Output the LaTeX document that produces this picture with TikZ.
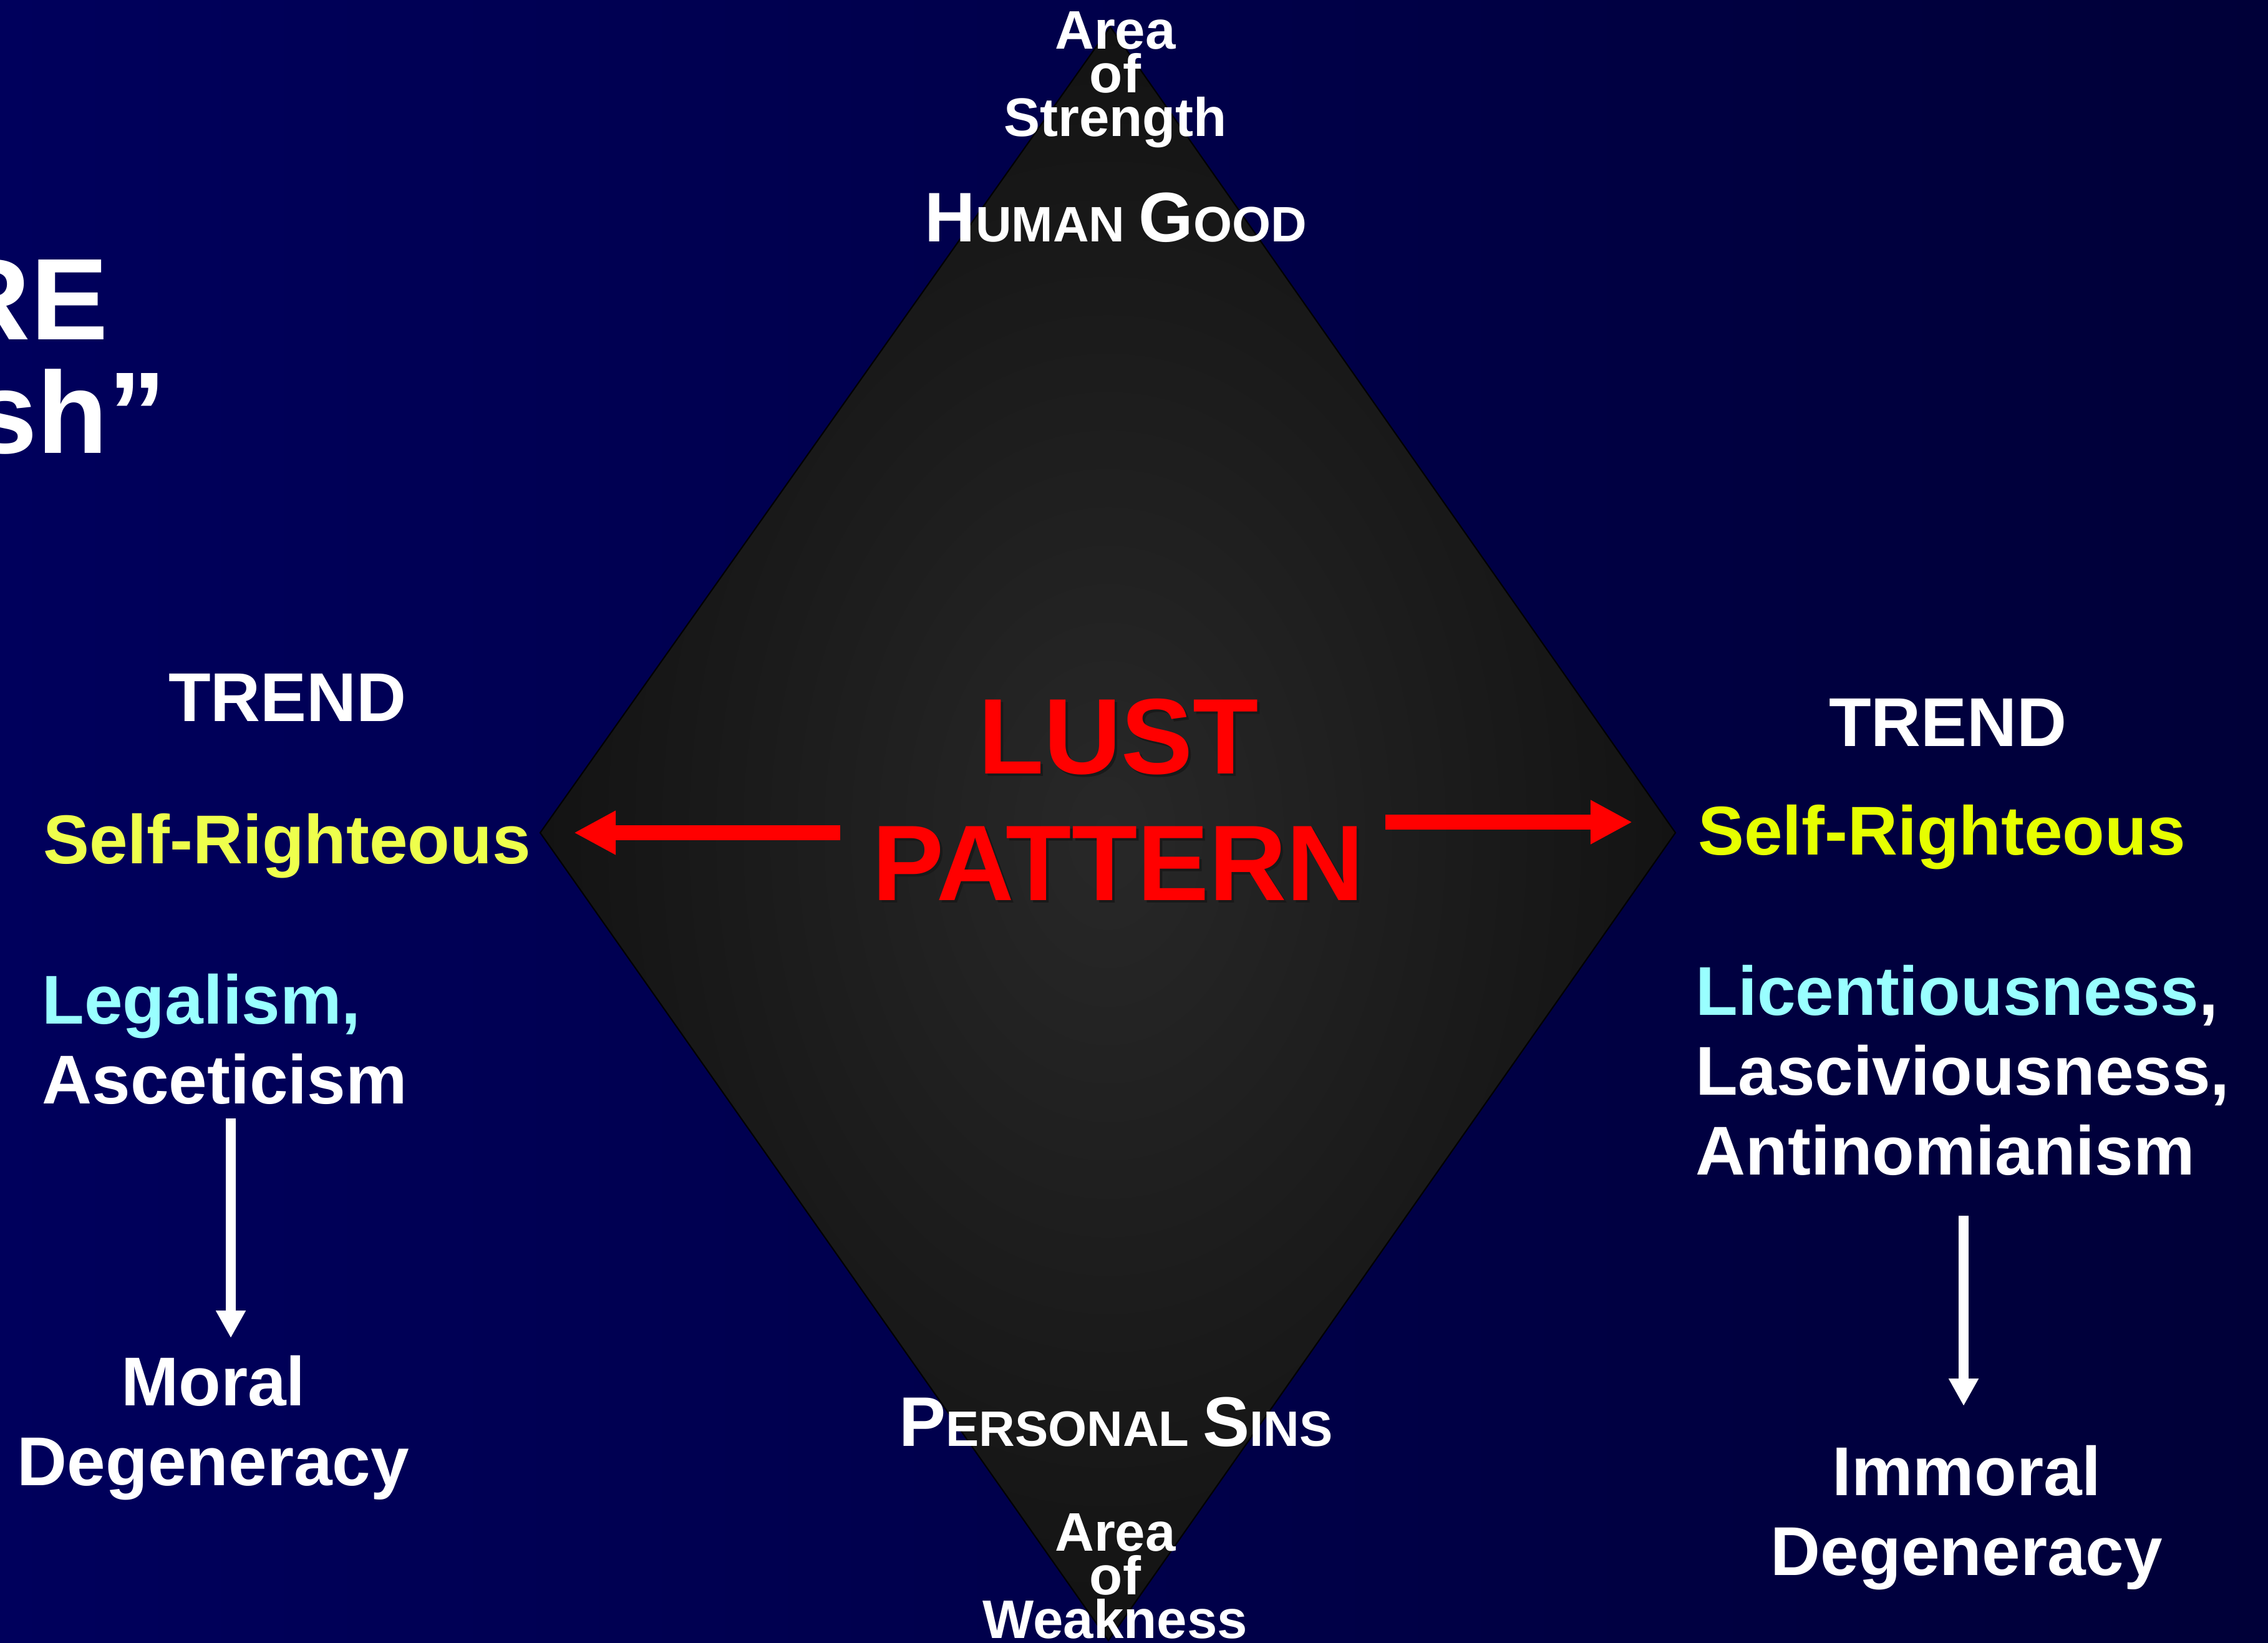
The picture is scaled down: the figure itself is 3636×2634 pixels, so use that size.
\documentclass[tikz,border=0pt]{standalone}
\usepackage{fontspec}
\setmainfont{Liberation Sans}
\usetikzlibrary{arrows.meta,calc,positioning}
\definecolor{bgleft}{HTML}{00005C}
\definecolor{bgright}{HTML}{000038}
\definecolor{slab}{HTML}{282828}
\definecolor{slabedge}{HTML}{131313}
\definecolor{lemon}{HTML}{EEFF4C}
\definecolor{lime}{HTML}{E6FF00}
\definecolor{aqua}{HTML}{99FFFF}
\definecolor{alarm}{HTML}{FF0000}

\newcommand\capsz[2]{{\fontsize{32}{32}\selectfont #1}{\fontsize{22.7}{22.7}\selectfont #2}}

\begin{document}
\begin{tikzpicture}[x=0.01cm, y=-0.01cm, inner sep=0pt,
  body/.style={font=\fontsize{31.5}{36.4}\selectfont\bfseries, text=white},
  area/.style={font=\fontsize{24.75}{19.9}\selectfont\bfseries, text=white, align=center, anchor=north},
  caps/.style={font=\fontsize{22.7}{22.7}\selectfont\bfseries, text=white, anchor=base},
  title/.style={font=\fontsize{52.9}{51.8}\selectfont\bfseries, text=white, anchor=base east},
  lust/.style={font=\fontsize{49}{57.8}\selectfont\bfseries, align=center, anchor=north},
  redarrow/.style={alarm, line width=6.8pt, -{Triangle[length=19.1pt, width=18.8pt]}},
  downarrow/.style={white, line width=4.5pt, -{Triangle[length=12.5pt, width=12.8pt]}}]
  \useasboundingbox (0,0) rectangle (3636,2634);
  \clip (0,0) rectangle (3636,2634);
  \shade[left color=bgleft, right color=bgright] (0,0) rectangle (3636,2634);

  % the diamond
  \coordinate (apex) at (1780,43);
  \coordinate (rcorner) at (2686,1335);
  \coordinate (nadir) at (1777,2630);
  \coordinate (lcorner) at (866,1335);
  \shadedraw[draw=black, line width=0.6pt, inner color=slab, outer color=slabedge]
    (apex) -- (rcorner) -- (nadir) -- (lcorner) -- cycle;

  % leftover title at the edge
  \node[title] (re) at (174,545) {RE};
  \node[title] (sh) at (267,727) {sh”};

  % top and bottom of the diamond
  \node[area] (strength) at (1788,18) {Area\\of\\Strength};
  \node[caps] (good) at (1789,388) {\capsz{H}{UMAN} \capsz{G}{OOD}};
  \node[caps] (sins) at (1789,2318) {\capsz{P}{ERSONAL} \capsz{S}{INS}};
  \node[area] (weakness) at (1788,2426) {Area\\of\\Weakness};

  % centre
  \node[lust, text=black!90] (lustshadow) at (1797,1123) {LUST\\PATTERN};
  \node[lust, text=alarm] (lust) at (1793,1119) {LUST\\PATTERN};
  \coordinate (lfrom) at (1347,1335);
  \coordinate (lto) at (920,1335);
  \coordinate (rfrom) at (2221,1318);
  \coordinate (rto) at (2617,1318);
  \draw[redarrow] (lfrom) -- (lto);
  \draw[redarrow] (rfrom) -- (rto);

  % left trend
  \node[body, anchor=base] (trendl) at (461,1156) {TREND};
  \node[body, text=lemon, anchor=base] (selfl) at (460,1384) {Self-Righteous};
  \node[body, anchor=north west, align=left] (legal) at (67,1561) {\textcolor{aqua}{Legalism,}\\Asceticism};
  \node[body, anchor=north, align=center] (moral) at (342,2173) {Moral\\Degeneracy};
  \coordinate (ldtop) at (370,1793);
  \coordinate (ldtip) at (370,2145);
  \draw[downarrow] (ldtop) -- (ldtip);

  % right trend
  \node[body, anchor=base] (trendr) at (3123,1196) {TREND};
  \node[body, text=lime, anchor=base] (selfr) at (3113,1370) {Self-Righteous};
  \node[body, anchor=north west, align=left] (licent) at (2718,1547) {\textcolor{aqua}{Licentiousness},\\Lasciviousness,\\Antinomianism};
  \node[body, anchor=north, align=center] (immoral) at (3153,2317) {Immoral\\Degeneracy};
  \coordinate (rdtop) at (3148,1949);
  \coordinate (rdtip) at (3148,2254);
  \draw[downarrow] (rdtop) -- (rdtip);
\end{tikzpicture}
\end{document}
